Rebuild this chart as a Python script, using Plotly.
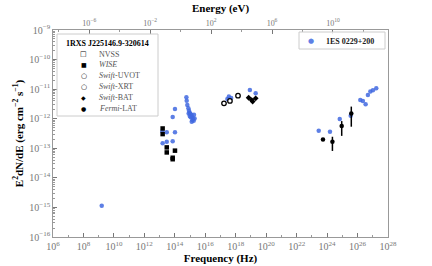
import plotly.graph_objects as go

# ---------------- data (log10 values) ----------------
# 1ES 0229+200 (blue)
blue_lognu = [9.20,
              13.18, 13.47, 14.01, 13.20, 13.47, 13.86, 13.86, 14.01,
              14.76, 14.78, 14.82, 14.89, 14.93, 14.98, 15.02, 15.09, 15.13, 15.19,
              15.24, 15.15, 15.04, 14.98, 14.91, 15.11, 15.26, 15.30,
              17.45, 17.55, 17.70, 18.93, 19.31,
              23.45, 24.19, 24.83, 25.55, 26.18, 26.35, 26.53, 26.68, 26.84, 27.01, 27.23]
blue_logf = [-14.94,
             -12.42, -12.46, -12.46, -12.83, -12.78, -12.76, -11.94, -11.67,
             -11.27, -11.39, -11.54, -11.65, -11.73, -11.80, -11.84, -11.87, -11.93, -11.99,
             -12.07, -12.04, -11.95, -11.91, -11.82, -12.10, -11.87, -11.99,
             -11.33, -11.25, -11.30, -11.03, -11.14,
             -12.41, -12.44, -12.01, -11.90, -11.37, -11.40, -11.51, -11.20, -11.08, -11.04, -10.97]

# 1RXS J225146.9-320614 (black)
wise_lognu = [13.20, 13.20, 13.47, 13.47, 13.86, 13.86, 14.01]
wise_logf = [-12.33, -12.52, -12.97, -13.14, -13.32, -13.37, -13.08]

xrt_lognu = [17.23, 17.62, 18.15]
xrt_logf = [-11.48, -11.40, -11.22]

bat_lognu = [18.85, 19.05, 19.11, 19.31]
bat_logf = [-11.29, -11.37, -11.42, -11.31]

lat_lognu = [23.73, 24.35, 24.96, 25.59]
lat_logf = [-12.70, -12.78, -12.25, -11.82]
lat_logf_lo = [-12.70, -13.09, -12.58, -12.27]
lat_logf_hi = [-12.70, -12.61, -12.08, -11.59]

x_tickvals_energy = [1e-6, 1e-2, 1e2, 1e6, 1e10]
x_ticktext_energy = ["10<sup>−6</sup>", "10<sup>−2</sup>", "10<sup>2</sup>", "10<sup>6</sup>", "10<sup>10</sup>"]

legend1_title = "1RXS J225146.9-320614"
legend1_labels = ["NVSS", "<i>WISE</i>", "<i>Swift</i>-UVOT", "<i>Swift</i>-XRT", "<i>Swift</i>-BAT", "<i>Fermi</i>-LAT"]
legend1_symbols = ["□", "■", "○", "○", "◆", "●"]
legend1_symsizes = [7, 6, 7, 7, 6, 6]
legend2_label = "1ES 0229+200"

LOG_H = -14.38346  # log10 of Planck constant in eV s

p10 = lambda arr: [10 ** v for v in arr]

BLUE = "rgba(65,105,225,0.85)"
FONT = "Liberation Serif"

fig = go.Figure()

fig.add_trace(go.Scatter(x=p10(blue_lognu), y=p10(blue_logf), mode="markers",
                         marker=dict(color=BLUE, size=4.5, line=dict(width=0)),
                         name=legend2_label, showlegend=False))
fig.add_trace(go.Scatter(x=p10(wise_lognu), y=p10(wise_logf), mode="markers",
                         marker=dict(color="black", size=4.5, symbol="square"),
                         showlegend=False))
fig.add_trace(go.Scatter(x=p10(xrt_lognu), y=p10(xrt_logf), mode="markers",
                         marker=dict(color="white", size=4.5, symbol="circle",
                                     line=dict(color="black", width=1.3)),
                         showlegend=False))
fig.add_trace(go.Scatter(x=p10(bat_lognu), y=p10(bat_logf), mode="markers",
                         marker=dict(color="black", size=4.5, symbol="diamond"),
                         showlegend=False))

lat_y = p10(lat_logf)
err_plus = [10 ** h - y for h, y in zip(lat_logf_hi, lat_y)]
err_minus = [y - 10 ** l for l, y in zip(lat_logf_lo, lat_y)]
fig.add_trace(go.Scatter(x=p10(lat_lognu), y=lat_y, mode="markers",
                         marker=dict(color="black", size=4.5),
                         error_y=dict(type="data", symmetric=False, array=err_plus,
                                      arrayminus=err_minus, color="black",
                                      thickness=1.5, width=0),
                         showlegend=False))

# dummy trace for top energy axis
fig.add_trace(go.Scatter(x=[10 ** (v + LOG_H) for v in [6, 28]], y=[1e-20, 1e-20],
                         mode="markers", marker=dict(opacity=0), xaxis="x2",
                         showlegend=False, hoverinfo="skip"))

axis_common = dict(showgrid=False, zeroline=False, ticks="inside", ticklen=4,
                   tickcolor="#777", linecolor="#999", linewidth=1.2,
                   tickfont=dict(family=FONT, size=8, color="#777"),
                   exponentformat="power", automargin=False)

fig.update_layout(
    width=432, height=266,
    margin=dict(l=53, r=44, t=30, b=29),
    paper_bgcolor="white", plot_bgcolor="white",
    showlegend=False,
    font=dict(family=FONT),
    xaxis=dict(type="log", range=[6, 28], dtick=2, mirror=True,
               minor=dict(ticks="inside", ticklen=2, tickcolor="#999", dtick=1),
               title=dict(text="<b>Frequency (Hz)</b>", font=dict(family=FONT, size=11, color="black"),
                          standoff=2),
               **axis_common),
    xaxis2=dict(type="log", overlaying="x", side="top",
                range=[6 + LOG_H, 28 + LOG_H],
                tickvals=x_tickvals_energy, ticktext=x_ticktext_energy,
                minor=dict(ticks="inside", ticklen=2, tickcolor="#999"),
                title=dict(text="<b>Energy (eV)</b>", font=dict(family=FONT, size=11, color="black"),
                           standoff=2),
                **axis_common),
    yaxis=dict(type="log", range=[-16, -9], dtick=1, mirror=True,
               minor=dict(ticks="inside", ticklen=2, tickcolor="#999"),
               title=dict(text="<b>E<sup>2</sup>dN/dE (erg cm<sup>−2</sup> s<sup>−1</sup>)</b>",
                          font=dict(family=FONT, size=11, color="black"), standoff=3),
               **axis_common),
)

# ---------- legends drawn as annotations ----------
W, Hh = 335.0, 207.0
px = lambda x: (x - 53) / W
py = lambda y: (237 - y) / Hh

fig.add_shape(type="rect", xref="paper", yref="paper",
              x0=px(57), x1=px(158), y0=py(116), y1=py(34),
              line=dict(color="#ccc", width=1), fillcolor="rgba(255,255,255,0.85)", layer="above")
fig.add_annotation(xref="paper", yref="paper", x=px(107.5), y=py(43.5), text="<b>" + legend1_title + "</b>",
                   showarrow=False, font=dict(family=FONT, size=8, color="black"),
                   xanchor="center", yanchor="middle")
ys = [54.3, 64.8, 75.7, 86.7, 97.7, 108.3]
for sym, sz, lab, yy in zip(legend1_symbols, legend1_symsizes, legend1_labels, ys):
    fig.add_annotation(xref="paper", yref="paper", x=px(83.5), y=py(yy), text="<b>" + sym + "</b>",
                       showarrow=False, font=dict(family="DejaVu Sans", size=sz, color="black"),
                       xanchor="center", yanchor="middle")
    fig.add_annotation(xref="paper", yref="paper", x=px(97), y=py(yy), text=lab,
                       showarrow=False, font=dict(family=FONT, size=8, color="#555"),
                       xanchor="left", yanchor="middle")

fig.add_shape(type="rect", xref="paper", yref="paper",
              x0=px(299), x1=px(385), y0=py(49), y1=py(32),
              line=dict(color="#ccc", width=1), fillcolor="rgba(255,255,255,0.85)", layer="above")
fig.add_annotation(xref="paper", yref="paper", x=px(310.5), y=py(41), text="●",
                   showarrow=False, font=dict(family="DejaVu Sans", size=7, color=BLUE),
                   xanchor="center", yanchor="middle")
fig.add_annotation(xref="paper", yref="paper", x=px(324), y=py(41), text="<b>" + legend2_label + "</b>",
                   showarrow=False, font=dict(family=FONT, size=8, color="#222"),
                   xanchor="left", yanchor="middle")

fig.write_html("out.html", config={"displayModeBar": False},
               post_script="document.body.style.margin='0';document.body.style.overflow='hidden';")
